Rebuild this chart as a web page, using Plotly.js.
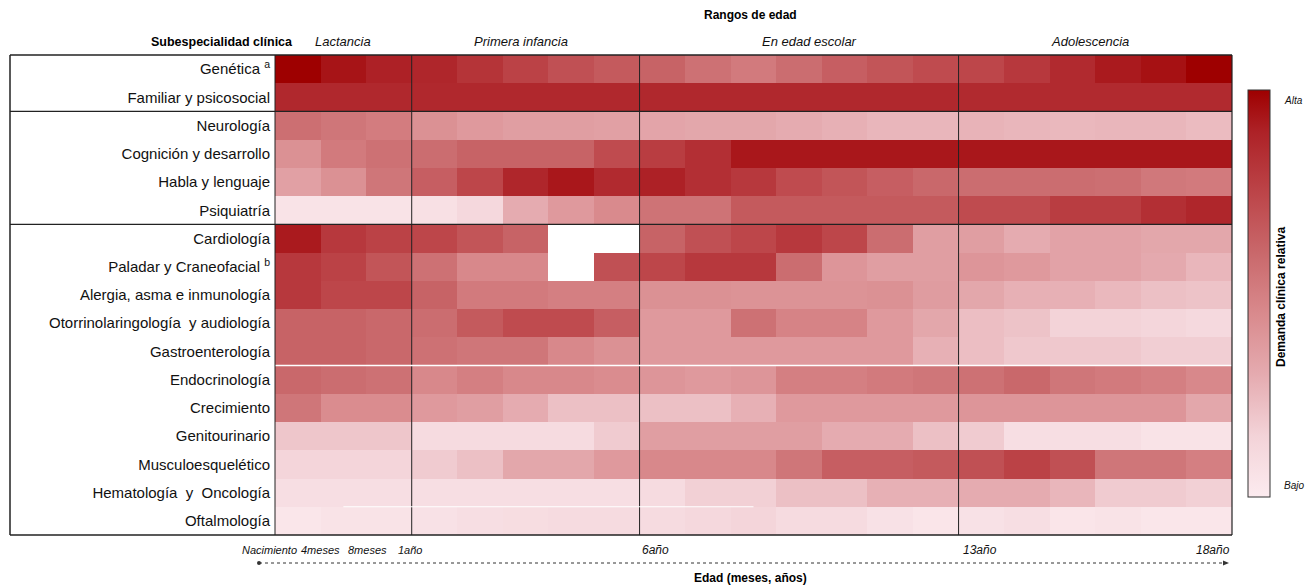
<!DOCTYPE html>
<html><head><meta charset="utf-8">
<script src="https://cdn.plot.ly/plotly-3.0.1.min.js"></script>
<style>body{margin:0;background:#fff}#chart{width:1305px;height:588px}</style>
</head><body><div id="chart"></div>
<script>
// Row categories (sub-specialties)
const subespecialidades = [
  "Genética <sup>a</sup>", "Familiar y psicosocial", "Neurología", "Cognición y desarrollo",
  "Habla y lenguaje", "Psiquiatría", "Cardiología", "Paladar y Craneofacial <sup>b</sup>",
  "Alergia, asma e inmunología", "Otorrinolaringología  y audiología", "Gastroenterología",
  "Endocrinología", "Crecimiento", "Genitourinario", "Musculoesquelético",
  "Hematología  y  Oncología", "Oftalmología"
];
// Age groups and how many columns each spans
const grupos = ["Lactancia", "Primera infancia", "En edad escolar", "Adolescencia"];
const columnasPorGrupo = [3, 5, 7, 6];
// Bottom age tick labels and their column boundary positions
const tickEdad = ["Nacimiento", "4meses", "8meses", "1año", "6año", "13año", "18año"];
const tickPos = [-0.5, 0.35, 1.4, 2.5, 7.5, 14.5, 20.5];

// Relative clinical demand (0 = Bajo, 100 = Alta); null = sin dato
const genetica      = [100,94,90, 88,82,76,70,66, 62,56,52,58,64,68,72, 74,80,86,92,95,100];
const familiar      = [87,87,87, 87,87,87,87,87, 87,87,87,87,87,87,87, 86,86,86,86,86,86];
const neurologia    = [57,54,51, 42,38,36,36,35, 33,32,32,30,28,26,26, 27,26,25,26,26,24];
const cognicion     = [42,52,56, 58,62,62,62,72, 78,84,93,93,93,93,93, 93,93,93,93,93,93];
const habla         = [35,42,54, 64,74,88,93,86, 90,84,80,72,68,64,60, 58,58,58,57,53,52];
const psiquiatria   = [5,5,5, 7,12,30,38,45, 55,55,66,66,66,66,66, 72,72,78,78,84,88];
const cardiologia   = [92,80,76, 74,68,62,null,null, 62,70,74,80,74,58,36, 36,30,34,34,32,32];
const paladar       = [80,76,68, 56,46,46,null,70, 74,80,80,58,40,36,36, 40,38,34,34,31,26];
const alergia       = [80,74,74, 62,52,52,50,50, 42,42,41,41,41,42,37, 32,28,28,25,22,21];
const otorrino      = [62,62,60, 58,66,72,72,64, 38,38,56,48,48,38,32, 23,21,15,15,13,11];
const gastro        = [62,62,60, 56,54,54,46,42, 38,38,38,38,38,38,28, 23,19,19,19,17,17];
const endocrino     = [60,58,56, 46,50,46,46,44, 40,38,40,50,50,52,54, 56,60,54,52,50,46];
const crecimiento   = [54,44,44, 38,36,30,22,22, 22,22,28,38,38,38,38, 40,40,40,40,40,32];
const genitourinario= [20,20,20, 10,10,10,10,18, 36,36,36,36,30,30,22, 18,8,8,8,5,5];
const musculo       = [14,14,14, 18,22,32,32,38, 46,46,46,54,64,64,66, 70,76,70,54,54,50];
const hematologia   = [8,8,8, 8,8,8,8,8, 10,16,16,22,22,28,28, 30,30,26,18,18,16];
const oftalmologia  = [3,5,5, 6,8,9,10,10, 10,12,14,10,10,6,4, 6,8,4,5,3,3];

const z = [genetica, familiar, neurologia, cognicion, habla, psiquiatria, cardiologia, paladar,
  alergia, otorrino, gastro, endocrino, crecimiento, genitourinario, musculo, hematologia, oftalmologia];

const nCols = columnasPorGrupo.reduce((a,b)=>a+b,0);
const xIdx = Array.from({length:nCols},(_,i)=>i);
const yIdx = subespecialidades.map((_,i)=>i);

const escala = [
  [0,'#fcebef'],[0.15,'#f3d3d8'],[0.3,'#e5abb0'],[0.45,'#d98a8d'],
  [0.6,'#c9686b'],[0.75,'#bc4448'],[0.9,'#ad2126'],[1,'#9e0000']
];

// Geometry
const W=1305,H=588, L=275, R=1232, T=55, B=535;
const px = p => (p-L)/(R-L);
const py = p => (B-p)/(B-T);

const shapes = [];
const black = '#222';
let acc = -0.5;
const bounds = [];
columnasPorGrupo.forEach((n,i)=>{ const c = acc + n/2; bounds.push(c); acc += n; if(i<columnasPorGrupo.length-1) shapes.push({type:'line',xref:'x',yref:'paper',x0:acc,x1:acc,y0:0,y1:1,line:{color:black,width:1}}); });
shapes.push({type:'line',xref:'x',yref:'y',x0:-0.5,x1:nCols-0.5,y0:10.5,y1:10.5,line:{color:'#ffffff',width:1.5}});
shapes.push({type:'line',xref:'x',yref:'y',x0:1,x1:10,y0:15.5,y1:15.5,line:{color:'#ffffff',width:1}});
[1.5,5.5].forEach(v=>shapes.push({type:'line',xref:'paper',yref:'y',x0:px(10),x1:1,y0:v,y1:v,line:{color:black,width:1.3}}));
shapes.push({type:'line',xref:'paper',yref:'paper',x0:px(10),x1:1,y0:1,y1:1,line:{color:black,width:1.5}});
shapes.push({type:'line',xref:'paper',yref:'paper',x0:px(10),x1:1,y0:0,y1:0,line:{color:black,width:1.5}});
shapes.push({type:'line',xref:'paper',yref:'paper',x0:px(10),x1:px(10),y0:0,y1:1,line:{color:black,width:1.5}});
shapes.push({type:'line',xref:'paper',yref:'paper',x0:1,x1:1,y0:0,y1:1,line:{color:black,width:1.2}});
shapes.push({type:'line',xref:'paper',yref:'paper',x0:0,x1:0,y0:0,y1:1,line:{color:black,width:1}});
shapes.push({type:'line',xref:'paper',yref:'paper',x0:px(259),x1:px(1224),y0:py(563),y1:py(563),line:{color:'#333',width:1,dash:'dot'}});
shapes.push({type:'circle',xref:'paper',yref:'paper',x0:px(257),x1:px(261),y0:py(561),y1:py(565),fillcolor:'#333',line:{width:0}});
shapes.push({type:'path',xref:'paper',yref:'paper',path:`M ${px(1223)} ${py(560.5)} L ${px(1229)} ${py(563)} L ${px(1223)} ${py(565.5)} Z`,fillcolor:'#333',line:{width:0}});

const ann = [];
const F = 'Liberation Sans, Arial, sans-serif';
const FN = 'Liberation Sans Narrow, Arial Narrow, Liberation Sans, Arial, sans-serif';
const A = (o)=>ann.push(Object.assign({showarrow:false,xref:'paper',yref:'paper',yanchor:'middle'},o));
A({text:'<b>Rangos de edad</b>',x:px(750),y:py(15),font:{family:F,size:12,color:'#000'}});
A({text:'<b>Subespecialidad clínica</b>',x:px(149),y:py(42),font:{family:F,size:12.5,color:'#000'}});
const grpOffset=[0,-5,10,-5];
grupos.forEach((g,i)=>A({text:'<i>'+g+'</i>',xref:'x',x:bounds[i],xshift:grpOffset[i],y:py(42),font:{family:FN,size:13,color:'#111'}}));
const tickAnchor=['right','center','center','center','left','left','right'];
const tickShift=[24,7,6,-2,0,2,0];
tickEdad.forEach((t,i)=>A({text:'<i>'+t+'</i>',xref:'x',x:tickPos[i],xanchor:tickAnchor[i],xshift:tickShift[i],y:py(550),font:{family:FN,size:i<4?11:12,color:'#111'}}));
A({text:'<b>Edad (meses, años)</b>',x:px(750),y:py(578),font:{family:F,size:12,color:'#000'}});
A({text:'<i>Alta</i>',x:px(1282),y:py(100),xanchor:'left',font:{family:FN,size:10,color:'#111'}});
A({text:'<i>Bajo</i>',x:px(1282),y:py(485),xanchor:'left',font:{family:FN,size:10,color:'#111'}});
A({text:'<b>Demanda clínica relativa</b>',x:px(1290),y:py(297),textangle:-90,font:{family:F,size:12,color:'#000'}});

const trace = {
  type:'heatmap', x:xIdx, y:yIdx, z:z, zmin:0, zmax:100,
  colorscale:escala, hoverongaps:false, xgap:0, ygap:0,
  colorbar:{thickness:22, len:407, lenmode:'pixels', x:px(1248), xanchor:'left', xpad:0, ypad:0, y:py(293.5), yanchor:'middle',
    showticklabels:false, ticks:'', outlinecolor:'#333', outlinewidth:1}
};

const layout = {
  width:W, height:H, margin:{l:L,r:W-R,t:T,b:H-B},
  paper_bgcolor:'#fff', plot_bgcolor:'#fff',
  xaxis:{range:[-0.5,nCols-0.5],showticklabels:false,showgrid:false,zeroline:false,ticks:'',fixedrange:true},
  yaxis:{range:[subespecialidades.length-0.5,-0.5],tickvals:yIdx,ticktext:subespecialidades,showgrid:false,zeroline:false,ticks:'',ticklen:0,
    ticklabelstandoff:4, tickfont:{family:F,size:15,color:'#111'},fixedrange:true},
  shapes:shapes, annotations:ann, font:{family:F}
};
Plotly.newPlot('chart',[trace],layout,{displayModeBar:false,staticPlot:true});
</script></body></html>
